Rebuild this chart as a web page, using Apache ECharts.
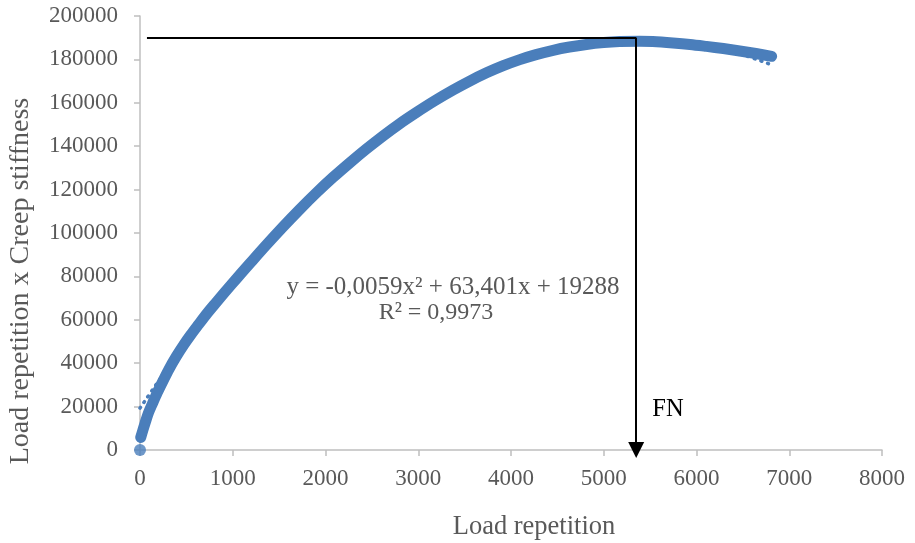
<!DOCTYPE html>
<html>
<head>
<meta charset="utf-8">
<script src="https://cdn.jsdelivr.net/npm/echarts@6/dist/echarts.min.js"></script>
<style>
html,body{margin:0;padding:0;background:#fff;}
#chart{width:915px;height:543px;}
</style>
</head>
<body>
<div id="chart"></div>
<script>
// ---- Data ----
var xTitle = 'Load repetition';
var yTitle = 'Load repetition x Creep stiffness';
var xTicks = [0, 1000, 2000, 3000, 4000, 5000, 6000, 7000, 8000];
var yTicks = [0, 20000, 40000, 60000, 80000, 100000, 120000, 140000, 160000, 180000, 200000];

// measured band of the scatter (load repetition, load repetition x creep stiffness)
var measuredX = [8, 30, 54, 90, 135, 187, 250, 313, 390, 474, 550, 629, 720, 819, 900, 988, 1090, 1185, 1360, 1545, 1720, 1904, 2080, 2263, 2440, 2622, 2800, 2981, 3180, 3376, 3550, 3736, 3910, 4095, 4270, 4454, 4630, 4813, 5000, 5172, 5388, 5528, 5747, 5930, 6107, 6290, 6466, 6640, 6810];
var measuredY = [5800, 9000, 12300, 17000, 21500, 26500, 32000, 37300, 43000, 48600, 53200, 57700, 62800, 67900, 72000, 76400, 81400, 86000, 94400, 103000, 110800, 118600, 125600, 132400, 138700, 144800, 150400, 155600, 161000, 165900, 169900, 173800, 177000, 179900, 182200, 184200, 185700, 186900, 187750, 188200, 188400, 188250, 187600, 186900, 186000, 185000, 183900, 182700, 181400];
var firstPoint = [[0, 0]];

// polynomial trendline (dotted) values
var trendX = [0, 200, 400, 600, 800, 1000, 1200, 1400, 1600, 1800, 2000, 2200, 2400, 2600, 2800, 3000, 3200, 3400, 3600, 3800, 4000, 4200, 4400, 4600, 4800, 5000, 5200, 5400, 5600, 5800, 6000, 6200, 6400, 6600, 6800];
var trendY = [19288, 31732, 43704, 55205, 66233, 76789, 86873, 96485, 105626, 114294, 122490, 130214, 137466, 144247, 150555, 156391, 161755, 166647, 171068, 175016, 178492, 181496, 184028, 186089, 187677, 188793, 189437, 189609, 189310, 188538, 187294, 185578, 183390, 180731, 177599];

var eqLine1 = 'y = -0,0059x² + 63,401x + 19288';
var eqLine2 = 'R² = 0,9973';
var fnLabel = 'FN';
var fnX = 5350;
var fnLevel = 190000;
var hLineStartX = 75;

// ---- Build chart ----
function zip(a, b) { var r = []; for (var i = 0; i < a.length; i++) r.push([a[i], b[i]]); return r; }
var serif = "'Liberation Serif', 'Times New Roman', serif";
var blue = '#4a7ebb';
var gray = '#595959';

var chart = echarts.init(document.getElementById('chart'), null, {renderer: 'canvas'});
chart.setOption({
  animation: false,
  backgroundColor: '#fff',
  grid: {left: 140, right: 33, top: 16, bottom: 93, containLabel: false},
  xAxis: {
    type: 'value', min: xTicks[0], max: xTicks[xTicks.length - 1], interval: 1000,
    axisLine: {show: true, lineStyle: {color: '#bfbfbf', width: 1.5}},
    axisTick: {show: true, inside: false, length: 6, lineStyle: {color: '#bfbfbf', width: 1.5}},
    splitLine: {show: false},
    axisLabel: {color: gray, fontFamily: serif, fontSize: 23, margin: 17, formatter: function (v) { return String(v); }}
  },
  yAxis: {
    type: 'value', min: yTicks[0], max: yTicks[yTicks.length - 1], interval: 20000,
    axisLine: {show: true, lineStyle: {color: '#bfbfbf', width: 1.5}},
    axisTick: {show: true, inside: false, length: 6, lineStyle: {color: '#bfbfbf', width: 1.5}},
    splitLine: {show: false},
    axisLabel: {color: gray, fontFamily: serif, fontSize: 23, margin: 22, formatter: function (v) { return String(v); }}
  },
  series: [
    {
      type: 'line', name: 'trend', data: zip(trendX, trendY), smooth: true, symbol: 'none', z: 1,
      lineStyle: {color: blue, width: 3.5, type: [1, 6], cap: 'round'}
    },
    {
      type: 'line', name: 'data', data: zip(measuredX, measuredY), smooth: 0.3, symbol: 'none', z: 2,
      lineStyle: {color: blue, width: 11, cap: 'round', join: 'round'},
      markLine: {
        silent: true, animation: false, symbol: ['none', 'none'],
        label: {show: false},
        lineStyle: {color: '#000', width: 2, type: 'solid'},
        data: [
          [{coord: [hLineStartX, fnLevel]}, {coord: [fnX, fnLevel]}],
          [{coord: [fnX, fnLevel], symbol: 'none'}, {coord: [fnX, 0], symbol: 'triangle', symbolSize: [16, 16]}]
        ]
      }
    },
    {
      type: 'scatter', name: 'first', data: firstPoint, symbolSize: 12, z: 3,
      itemStyle: {color: blue}
    }
  ],
  graphic: [
    {type: 'text', x: 534, y: 527, style: {text: xTitle, fill: gray, font: '26.5px ' + serif, textAlign: 'center', textVerticalAlign: 'middle'}},
    {type: 'text', x: 21, y: 281, rotation: Math.PI / 2, style: {text: yTitle, fill: gray, font: '28px ' + serif, textAlign: 'center', textVerticalAlign: 'middle'}},
    {type: 'text', x: 453, y: 287, style: {text: eqLine1, fill: gray, font: '25px ' + serif, textAlign: 'center', textVerticalAlign: 'middle'}},
    {type: 'text', x: 436, y: 313, style: {text: eqLine2, fill: gray, font: '24px ' + serif, textAlign: 'center', textVerticalAlign: 'middle'}},
    {type: 'text', x: 668, y: 410, style: {text: fnLabel, fill: '#000', font: '24.5px ' + serif, textAlign: 'center', textVerticalAlign: 'middle'}}
  ]
});
</script>
</body>
</html>
